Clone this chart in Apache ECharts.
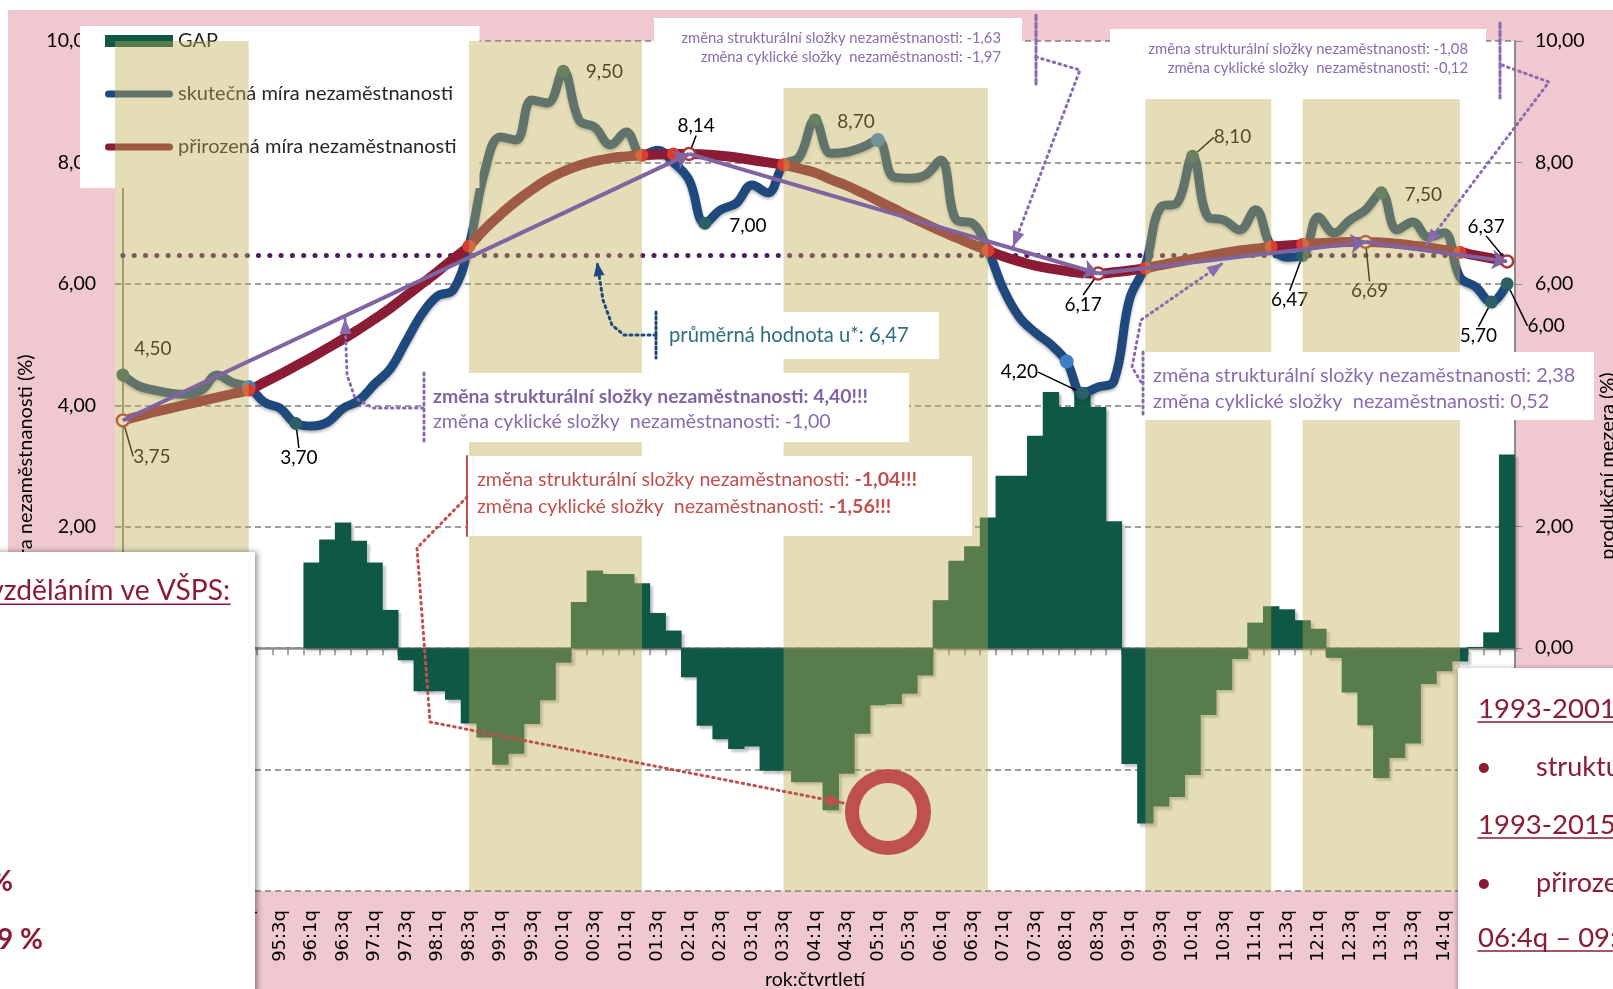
<!DOCTYPE html>
<html lang="cs">
<head>
<meta charset="UTF-8">
<title>Nezaměstnanost a produkční mezera</title>
<style>
  html, body { margin: 0; padding: 0; background: #fff; }
  #main { width: 1613px; height: 989px; }
</style>
</head>
<body>
<div id="main"></div>
<script src="https://cdn.jsdelivr.net/npm/echarts@6/dist/echarts.min.js"></script>
<script>
// ---- data ----
var kategorie = [
  '93:1q','93:2q','93:3q','93:4q','94:1q','94:2q','94:3q','94:4q','95:1q','95:2q','95:3q','95:4q',
  '96:1q','96:2q','96:3q','96:4q','97:1q','97:2q','97:3q','97:4q','98:1q','98:2q','98:3q','98:4q',
  '99:1q','99:2q','99:3q','99:4q','00:1q','00:2q','00:3q','00:4q','01:1q','01:2q','01:3q','01:4q',
  '02:1q','02:2q','02:3q','02:4q','03:1q','03:2q','03:3q','03:4q','04:1q','04:2q','04:3q','04:4q',
  '05:1q','05:2q','05:3q','05:4q','06:1q','06:2q','06:3q','06:4q','07:1q','07:2q','07:3q','07:4q',
  '08:1q','08:2q','08:3q','08:4q','09:1q','09:2q','09:3q','09:4q','10:1q','10:2q','10:3q','10:4q',
  '11:1q','11:2q','11:3q','11:4q','12:1q','12:2q','12:3q','12:4q','13:1q','13:2q','13:3q','13:4q',
  '14:1q','14:2q','14:3q','14:4q','15:1q'
];

// skutečná míra nezaměstnanosti
var skutecna = [
  4.50, 4.32, 4.25, 4.20, 4.18, 4.25, 4.50, 4.37, 4.30, 4.05,
  3.95, 3.70, 3.66, 3.72, 3.95, 4.08, 4.35, 4.60, 5.05, 5.50,
  5.80, 5.90, 6.62, 7.85, 8.42, 8.37, 9.03, 8.98, 9.50, 8.70,
  8.58, 8.29, 8.50, 8.12, 8.20, 8.00, 7.71, 7.00, 7.22, 7.33,
  7.63, 7.50, 7.96, 8.09, 8.70, 8.15, 8.17, 8.25, 8.37, 7.76,
  7.74, 7.79, 8.04, 7.05, 7.00, 6.55, 5.90, 5.45, 5.20, 5.00,
  4.72, 4.20, 4.30, 4.40, 5.75, 6.30, 7.27, 7.33, 8.10, 7.10,
  7.05, 6.89, 7.22, 6.61, 6.44, 6.47, 7.10, 6.84, 7.05, 7.22,
  7.50, 6.89, 7.02, 6.77, 6.84, 6.11, 5.95, 5.70, 6.00
];

// přirozená míra nezaměstnanosti
var prirozena = [
  3.75, 3.82, 3.89, 3.95, 4.01, 4.07, 4.13, 4.19, 4.25,
  4.38, 4.51, 4.65, 4.79, 4.94, 5.09, 5.25, 5.42, 5.60, 5.80, 6.00, 6.20, 6.41, 6.62,
  6.90, 7.14, 7.36, 7.55, 7.72, 7.85, 7.95, 8.02, 8.07, 8.10, 8.12, 8.13, 8.14, 8.14,
  8.13, 8.11, 8.08, 8.04, 8.00, 7.96,
  7.90, 7.83, 7.72, 7.62, 7.50, 7.37, 7.24, 7.11, 6.99, 6.87, 6.76, 6.65, 6.55,
  6.45, 6.37, 6.30, 6.25, 6.21, 6.18, 6.17,
  6.19, 6.22, 6.26,
  6.31, 6.36, 6.41, 6.46, 6.51, 6.55, 6.58, 6.61,
  6.63, 6.65, 6.67, 6.68, 6.69, 6.69,
  6.68, 6.66, 6.63, 6.60, 6.56, 6.52, 6.47, 6.42, 6.37
];

// GAP (produkční mezera)
var mezera = [
  null, null, null, null, null, null, null, null, null, null, null, null,
  1.41, 1.79, 2.07, 1.77, 1.41, 0.63, -0.20, -0.71, -0.71, -0.85,
  -1.24, -1.47, -1.92, -1.74, -1.25, -0.86, -0.24, 0.76, 1.28, 1.22,
  1.22, 1.07, 0.58, 0.29, -0.48, -1.28, -1.50, -1.66, -1.62, -2.02,
  -2.02, -2.21, -2.21, -2.67, -2.07, -1.41, -0.94, -0.92, -0.75, -0.45,
  0.79, 1.44, 1.68, 2.15, 2.84, 2.84, 3.50, 4.22, 3.97, 4.30,
  3.97, 2.09, -1.91, -2.89, -2.61, -2.45, -2.09, -1.10, -0.69, -0.18,
  0.42, 0.69, 0.64, 0.46, 0.32, -0.16, -0.73, -1.27, -2.14, -1.81,
  -1.57, -0.59, -0.38, -0.22, 0.02, 0.26, 3.19
];

var prumerU = 6.47;

// zvýrazněná období: [od indexu, do indexu, horní hodnota]
var obdobi = [[-0.5, 8, 10], [22, 33, 10], [42, 55, 9.23], [65, 73, 9.05], [75, 85, 9.05]];

var bodySkutecna = [0, 11, 28, 37, 44, 61, 68, 75, 80, 87, 88];
var bodySkutecnaSvetle = [8, 48, 60];
var bodyPrirozena = [8, 22, 33, 35, 42, 55, 65, 73, 75, 85];
var kruhyPrirozena = [0, 36, 62, 79, 88];

var yTicks = { min: -4, max: 10, step: 2 };

// ---- styles / layout ----
var FONT = 'Lato, "DejaVu Sans", sans-serif';
var TINT = 'rgba(191,174,86,0.42)';
var PURPLE = '#8064a2';
var PURPLE_DOT = '#8a6bb0';
var DARKRED = '#8b1c35';
var RED = '#c0504d';

// label offsets (px from point)
var posA = {0: [30, -26], 11: [3, 34], 28: [41, 1], 37: [43, 3], 44: [41, 2], 61: [-63, -21],
            68: [40, -19], 75: [-13, 45], 80: [42, 2], 87: [-13, 34], 88: [39, 42]};
var leaderA = [11, 61, 68, 75, 87, 88];
var posN = {0: [29, 36], 36: [7, -28], 62: [-15, 31], 79: [4, 49], 88: [-21, -35]};

function fmt(v) { return Number(v).toFixed(2).replace('.', ','); }

var dataA = skutecna.map(function (v, i) {
  var it = { value: v };
  if (bodySkutecna.indexOf(i) >= 0) {
    it.symbol = 'circle'; it.symbolSize = 13; it.itemStyle = { color: '#2b6166' };
  }
  if (bodySkutecnaSvetle.indexOf(i) >= 0) {
    it.symbol = 'circle'; it.symbolSize = 14; it.itemStyle = { color: '#3d80c8' };
  }
  if (posA[i]) {
    it.label = { show: true };
    it.labelLine = { show: leaderA.indexOf(i) >= 0 };
  }
  return it;
});

var dataN = prirozena.map(function (v, i) {
  var it = { value: v };
  if (bodyPrirozena.indexOf(i) >= 0) {
    it.symbol = 'circle'; it.symbolSize = 13; it.itemStyle = { color: '#dc3b32' };
  }
  if (kruhyPrirozena.indexOf(i) >= 0) {
    it.symbol = 'circle'; it.symbolSize = 12;
    it.itemStyle = { color: '#fff', borderColor: '#b03535', borderWidth: 2.5 };
  }
  if (posN[i]) {
    it.label = { show: true };
    it.labelLine = { show: true };
  }
  return it;
});

var sipky = [];
for (var k = 0; k < kruhyPrirozena.length - 1; k++) {
  var a = kruhyPrirozena[k], b = kruhyPrirozena[k + 1];
  sipky.push({ coords: [[kategorie[a], prirozena[a]], [kategorie[b], prirozena[b]]] });
}

// ---- annotation graphics ----
var measureCtx = document.createElement('canvas').getContext('2d');
function textWidth(s, font) { measureCtx.font = font; return measureCtx.measureText(s).width; }

var g = [];
function rect(x, y, w, h, z, extra) {
  var st = { fill: '#fff' };
  if (extra) for (var p in extra) st[p] = extra[p];
  g.push({ type: 'rect', shape: { x: x, y: y, width: w, height: h }, style: st, z: z, silent: true });
}
function text(s, x, y, size, color, opt) {
  opt = opt || {};
  var st = { text: s, x: x, y: y, fill: color, fontSize: size, fontFamily: FONT,
             fontWeight: opt.bold ? 'bold' : 'normal', align: opt.align || 'left', verticalAlign: 'middle' };
  if (opt.rich) st.rich = opt.rich;
  g.push({ type: 'text', style: st, z: opt.z || 11, silent: true });
}
function line(pts, color, width, dash, z) {
  g.push({ type: 'polyline', shape: { points: pts },
           style: { stroke: color, lineWidth: width, lineDash: dash || null, lineCap: 'round', fill: null },
           z: z || 11, silent: true });
}
function arrow(pts, color, width, dash, len, wid, z) {
  line(pts, color, width, dash, z);
  var p2 = pts[pts.length - 1], p1 = pts[pts.length - 2];
  var dx = p2[0] - p1[0], dy = p2[1] - p1[1], L = Math.sqrt(dx * dx + dy * dy);
  var ux = dx / L, uy = dy / L, bx = p2[0] - ux * len, by = p2[1] - uy * len;
  g.push({ type: 'polygon', shape: { points: [p2, [bx - uy * wid / 2, by + ux * wid / 2], [bx + uy * wid / 2, by - ux * wid / 2]] },
           style: { fill: color }, z: z || 11, silent: true });
}
function underlined(s, x, y, size, color, opt) {
  opt = opt || {};
  text(s, x, y, size, color, opt);
  var w = textWidth(s, (opt.bold ? 'bold ' : '') + size + 'px ' + FONT);
  var x0 = opt.align === 'right' ? x - w : x;
  line([[x0, y + size * 0.47], [x0 + w, y + size * 0.47]], color, 1.6, null, opt.z || 11);
}

// backgrounds
g.push({ type: 'rect', shape: { x: 8, y: 10, width: 1605, height: 979 }, style: { fill: '#f0c8d0' }, z: -10, silent: true });
g.push({ type: 'rect', shape: { x: 115, y: 41, width: 1400, height: 850 }, style: { fill: '#fff' }, z: -9, silent: true });

// top boxes
rect(654, 18, 368, 70, 10);
text('změna strukturální složky nezaměstnanosti: -1,63', 1001, 38, 14.8, PURPLE_DOT, { align: 'right' });
text('změna cyklické složky  nezaměstnanosti: -1,97', 1001, 57, 14.8, PURPLE_DOT, { align: 'right' });
line([[1036, 15], [1036, 87]], PURPLE_DOT, 3, [5, 3]);
rect(1110, 29, 376, 70, 10);
text('změna strukturální složky nezaměstnanosti: -1,08', 1468, 49, 14.8, PURPLE_DOT, { align: 'right' });
text('změna cyklické složky  nezaměstnanosti: -0,12', 1468, 68, 14.8, PURPLE_DOT, { align: 'right' });
line([[1500, 23], [1500, 98]], PURPLE_DOT, 3, [5, 3]);

// average box
rect(645, 312, 294, 47, 10);
line([[656, 312], [656, 358]], '#1f497d', 3, [2, 3]);
text('průměrná hodnota u*: 6,47', 669, 335, 20.2, '#2d6e7e');
arrow([[656, 335], [624, 335], [612, 325], [603, 300], [597, 262]], '#1f497d', 3, [2, 4], 14, 11);

// 4,40 box
rect(424, 373, 485, 69, 10);
line([[424, 373], [424, 442]], PURPLE_DOT, 3, [2, 4]);
text('změna strukturální složky nezaměstnanosti: 4,40!!!', 433, 397, 19.4, PURPLE, { bold: true });
text('změna cyklické složky  nezaměstnanosti: -1,00', 433, 422, 19.6, PURPLE_DOT);
arrow([[423, 408], [373, 408], [355, 398], [347, 375], [345, 318]], PURPLE_DOT, 3, [1.5, 4.5], 16, 12);

// -1,04 box
rect(467, 456, 505, 80, 10);
line([[467, 456], [467, 536]], RED, 2);
var richRed = { b: { fontWeight: 'bold', fontSize: 19.6, fontFamily: FONT, fill: RED } };
text('změna strukturální složky nezaměstnanosti: {b|-1,04!!!}', 477, 480, 19.6, RED, { rich: richRed });
text('změna cyklické složky  nezaměstnanosti: {b|-1,56!!!}', 477, 507, 19.6, RED, { rich: richRed });
arrow([[467, 497], [417, 548], [430, 722], [843, 803]], RED, 3, [1.5, 4.5], 16, 12);
g.push({ type: 'ring', shape: { cx: 888, cy: 812, r: 43, r0: 29 }, style: { fill: RED }, z: 11, silent: true });

// 2,38 box
rect(1143, 352, 451, 68, 10);
line([[1143, 352], [1143, 418]], PURPLE_DOT, 3, [2, 4]);
text('změna strukturální složky nezaměstnanosti: 2,38', 1153, 376, 19.9, PURPLE_DOT);
text('změna cyklické složky  nezaměstnanosti: 0,52', 1153, 402, 19.9, PURPLE_DOT);
arrow([[1141, 382], [1132, 367], [1141, 320], [1223, 263]], PURPLE_DOT, 3, [1.5, 4.5], 16, 12);

// leaders from top boxes
arrow([[1036, 57], [1080, 70], [1013, 247]], PURPLE_DOT, 3, [1.5, 4.5], 16, 12);
arrow([[1502, 65], [1549, 82], [1426, 245]], PURPLE_DOT, 3, [1.5, 4.5], 16, 12);

// side panels of the slide
rect(-10, 552, 265, 447, 20, { shadowBlur: 6, shadowColor: 'rgba(0,0,0,0.45)', shadowOffsetX: 2 });
underlined('vzděláním ve VŠPS:', 230, 591, 28.2, DARKRED, { align: 'right', z: 21 });
text('4,1 %', 13, 882, 28, DARKRED, { align: 'right', bold: true, z: 21 });
text('3,9 %', 43, 940, 28, DARKRED, { align: 'right', bold: true, z: 21 });
text('5,2 %', 15, 1003, 28, DARKRED, { align: 'right', bold: true, z: 21 });

rect(1458, 668, 170, 331, 20, { shadowBlur: 5, shadowColor: 'rgba(0,0,0,0.3)', shadowOffsetX: -1 });
underlined('1993-2001', 1478, 709, 27.5, DARKRED, { z: 21 });
text('•', 1476, 767, 27, DARKRED, { z: 21 });
text('strukturální', 1536, 767, 27, DARKRED, { z: 21 });
underlined('1993-2015', 1478, 825, 27.5, DARKRED, { z: 21 });
text('•', 1476, 883, 27, DARKRED, { z: 21 });
text('přirozená', 1536, 883, 27, DARKRED, { z: 21 });
underlined('06:4q – 09:1q', 1478, 938, 27.5, DARKRED, { z: 21 });

// legend icons (thick rounded line with invisible bounding points)
var lineIcon = 'path://M0,0L0.01,0L0.01,0.01ZM3.5,2.5L64.5,2.5A3.5,3.5,0,0,1,64.5,9.5L3.5,9.5A3.5,3.5,0,0,1,3.5,2.5ZM68,12L67.99,12L67.99,11.99Z';

var option = {
  animation: false,
  backgroundColor: '#fff',
  textStyle: { fontFamily: FONT },
  grid: { left: 115, right: 98, top: 41, bottom: 98, containLabel: false, outerBoundsMode: 'none' },
  legend: {
    orient: 'vertical', left: 80, top: 26, z: 4,
    backgroundColor: '#fff', padding: [5, 23, 31, 25],
    itemWidth: 68, itemHeight: 12, itemGap: 33,
    selectedMode: false,
    textStyle: { fontFamily: FONT, fontSize: 20, color: '#262626' },
    data: [
      { name: 'GAP', icon: 'rect' },
      { name: 'skutečná míra nezaměstnanosti', icon: lineIcon },
      { name: 'přirozená míra nezaměstnanosti', icon: lineIcon }
    ]
  },
  xAxis: [
    {
      type: 'category', data: kategorie, position: 'bottom',
      axisLine: { show: false, onZero: false }, axisTick: { show: false },
      axisLabel: { interval: 1, rotate: 90, margin: 19, fontFamily: '"DejaVu Sans", sans-serif', fontSize: 18, color: '#000' },
      splitLine: { show: false },
      name: 'rok:čtvrtletí', nameLocation: 'middle', nameGap: 78,
      nameTextStyle: { fontFamily: FONT, fontSize: 19.5, color: '#000' }
    },
    {
      type: 'category', data: kategorie, position: 'bottom',
      axisLine: { show: true, onZero: true, lineStyle: { color: '#8c8c8c', width: 2.5 } },
      axisTick: { show: true, interval: 0, length: 7, lineStyle: { color: '#8c8c8c', width: 1.5 } },
      axisLabel: { show: false }, splitLine: { show: false }
    },
    { type: 'value', min: -0.5, max: 88.5, show: false, position: 'bottom' }
  ],
  yAxis: [
    {
      type: 'value', min: yTicks.min, max: yTicks.max, interval: yTicks.step, position: 'left',
      name: 'míra nezaměstnanosti (%)', nameLocation: 'middle', nameGap: 77, nameRotate: 90,
      nameTextStyle: { fontFamily: FONT, fontSize: 20, color: '#000' },
      axisLine: { show: true, lineStyle: { color: '#8c8c8c', width: 2 } },
      axisTick: { show: true, length: 6, lineStyle: { color: '#8c8c8c' } },
      axisLabel: { formatter: fmt, fontFamily: FONT, fontSize: 19.5, color: '#000', margin: 19 },
      splitLine: { show: true, lineStyle: { color: '#7f7f7f', type: [6, 4], width: 1.5 } }
    },
    {
      type: 'value', min: yTicks.min, max: yTicks.max, interval: yTicks.step, position: 'right',
      name: 'produkční mezera (%)', nameLocation: 'middle', nameGap: 83, nameRotate: 90,
      nameTextStyle: { fontFamily: FONT, fontSize: 20, color: '#000' },
      axisLine: { show: true, lineStyle: { color: '#8c8c8c', width: 2 } },
      axisTick: { show: true, length: 7, lineStyle: { color: '#8c8c8c' } },
      axisLabel: { formatter: fmt, fontFamily: FONT, fontSize: 19.5, color: '#000', margin: 20 },
      splitLine: { show: false }
    }
  ],
  series: [
    {
      name: 'GAP', type: 'bar', xAxisIndex: 0, yAxisIndex: 1, data: mezera,
      barWidth: 16.4, barGap: '-100%', z: 2,
      itemStyle: { color: '#0e5845', shadowBlur: 2, shadowColor: 'rgba(0,0,0,0.22)', shadowOffsetX: 3, shadowOffsetY: 3 },
      emphasis: { disabled: true }
    },
    {
      name: 'skutečná míra nezaměstnanosti', type: 'line', xAxisIndex: 0, yAxisIndex: 0,
      data: dataA, color: '#1f497d', smooth: 0.4, symbol: 'none', showAllSymbol: true, z: 2,
      lineStyle: { color: '#1f497d', width: 9, cap: 'round', shadowBlur: 3, shadowColor: 'rgba(0,0,0,0.3)', shadowOffsetY: 2 },
      label: { show: false, position: 'inside', formatter: function (p) { return fmt(p.value); },
               fontFamily: FONT, fontSize: 19, color: '#000' },
      labelLine: { show: false, lineStyle: { color: '#000', width: 1.5 } },
      labelLayout: function (p) { var o = posA[p.dataIndex]; return o ? { dx: o[0], dy: o[1] } : {}; },
      emphasis: { disabled: true }
    },
    {
      name: 'přirozená míra nezaměstnanosti', type: 'line', xAxisIndex: 0, yAxisIndex: 0,
      data: dataN, color: '#8b1c35', smooth: 0.5, symbol: 'none', showAllSymbol: true, z: 2,
      lineStyle: { color: '#8b1c35', width: 10, cap: 'round' },
      label: { show: false, position: 'inside', formatter: function (p) { return fmt(p.value); },
               fontFamily: FONT, fontSize: 19, color: '#000' },
      labelLine: { show: false, lineStyle: { color: '#000', width: 1.5 } },
      labelLayout: function (p) { var o = posN[p.dataIndex]; return o ? { dx: o[0], dy: o[1] } : {}; },
      markLine: {
        silent: true, z: 2, symbol: ['none', 'none'], label: { show: false },
        lineStyle: { color: '#4d1f5e', width: 5, type: [0.1, 11.2], cap: 'round', opacity: 1 },
        emphasis: { disabled: true },
        data: [[{ coord: [kategorie[0], prumerU] }, { coord: [kategorie[kategorie.length - 1], prumerU] }]]
      },
      emphasis: { disabled: true }
    },
    {
      name: 'obdobi', type: 'custom', xAxisIndex: 2, yAxisIndex: 0, z: 5, silent: true,
      data: obdobi.map(function (o) { return [o[0], o[1], o[2], yTicks.min]; }),
      encode: { x: [0, 1], y: [2, 3] },
      renderItem: function (params, api) {
        var p0 = api.coord([api.value(0), api.value(2)]);
        var p1 = api.coord([api.value(1), api.value(3)]);
        return { type: 'rect', shape: { x: p0[0], y: p0[1], width: p1[0] - p0[0], height: p1[1] - p0[1] },
                 style: { fill: TINT } };
      }
    },
    {
      name: 'zmena', type: 'lines', coordinateSystem: 'cartesian2d', xAxisIndex: 0, yAxisIndex: 0,
      z: 6, silent: true, data: sipky,
      symbol: ['none', 'arrow'], symbolSize: 15,
      lineStyle: { color: PURPLE, width: 4, opacity: 1, curveness: 0 }
    }
  ],
  graphic: { elements: g }
};

var chart = echarts.init(document.getElementById('main'));
chart.setOption(option);
</script>
</body>
</html>
